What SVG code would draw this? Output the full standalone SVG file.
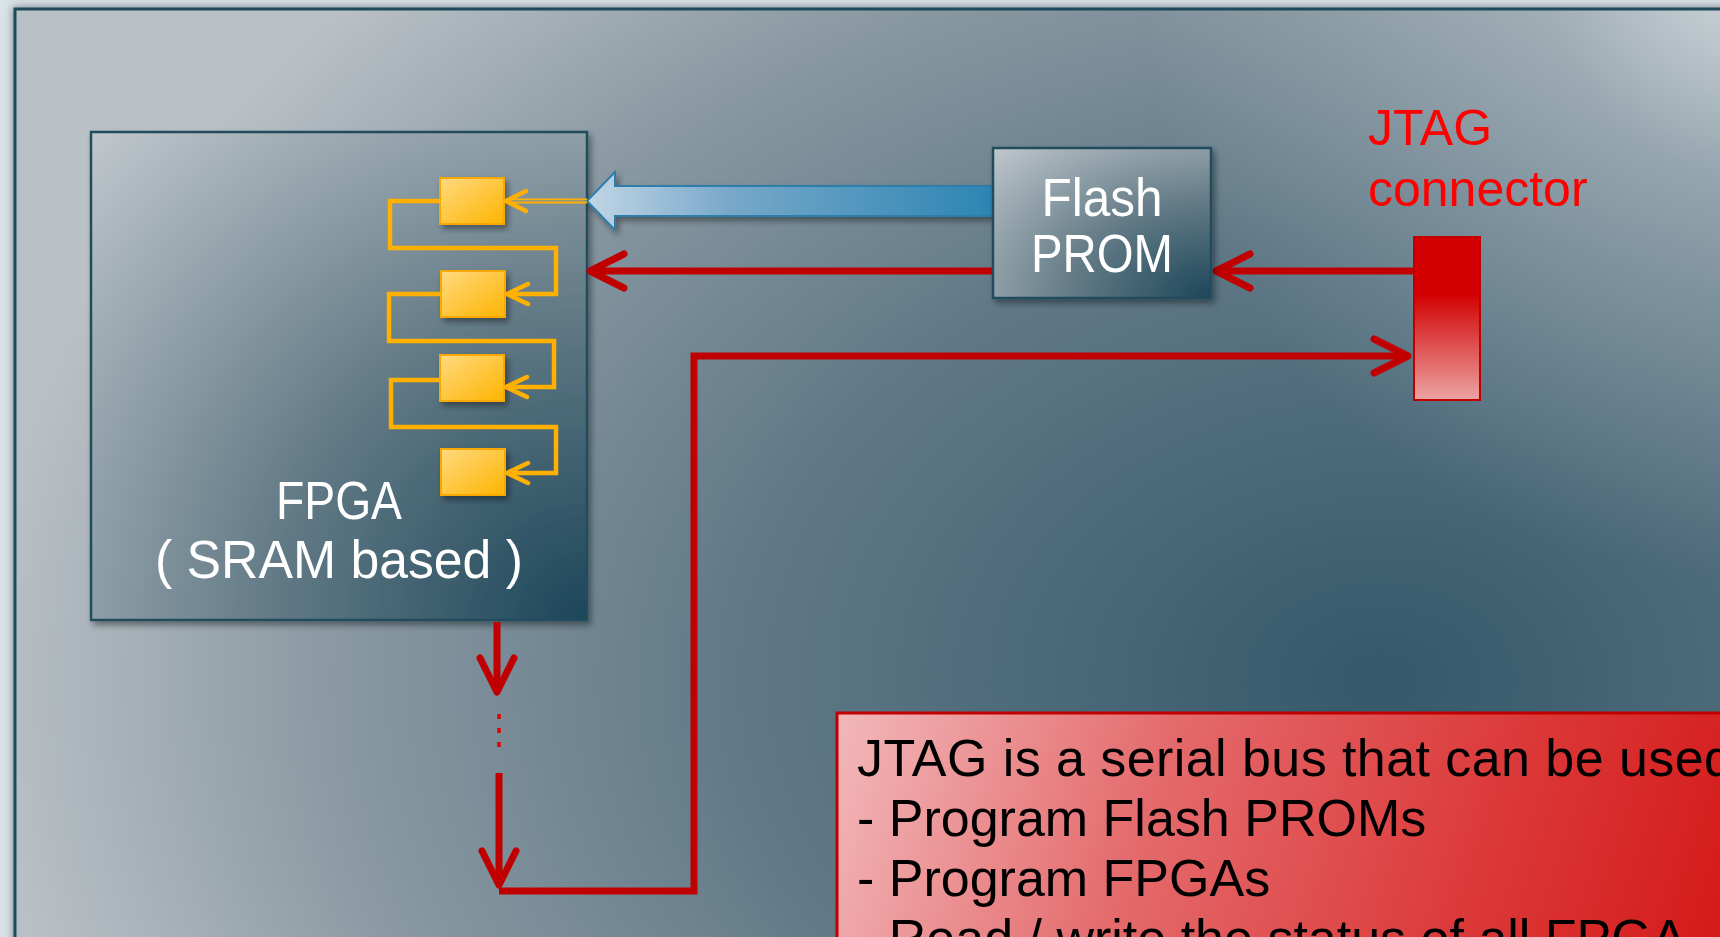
<svg xmlns="http://www.w3.org/2000/svg" width="1720" height="937" viewBox="0 0 1720 937">
<defs>
  <radialGradient id="bgGrad" gradientUnits="userSpaceOnUse" cx="1380" cy="680" r="1400" gradientTransform="translate(1380 680) scale(1 0.72) translate(-1380 -680)">
    <stop offset="0" stop-color="#35586a"/>
    <stop offset="0.45" stop-color="#5f7886"/>
    <stop offset="0.75" stop-color="#8a99a2"/>
    <stop offset="1" stop-color="#bac1c6"/>
  </radialGradient>
  <radialGradient id="glow" gradientUnits="userSpaceOnUse" cx="1760" cy="-40" r="620">
    <stop offset="0" stop-color="#dfe4e7" stop-opacity="0.85"/>
    <stop offset="0.35" stop-color="#dfe4e7" stop-opacity="0.35"/>
    <stop offset="1" stop-color="#dfe4e7" stop-opacity="0"/>
  </radialGradient>
  <radialGradient id="boxGrad" cx="1" cy="1" r="1.41">
    <stop offset="0" stop-color="#1c4659"/>
    <stop offset="0.45" stop-color="#627a86"/>
    <stop offset="1" stop-color="#c0c7cc"/>
  </radialGradient>
  <linearGradient id="cellGrad" x1="0" y1="0" x2="1" y2="1">
    <stop offset="0" stop-color="#ffda80"/>
    <stop offset="1" stop-color="#ffb400"/>
  </linearGradient>
  <linearGradient id="blueGrad" gradientUnits="userSpaceOnUse" x1="587" y1="0" x2="993" y2="0">
    <stop offset="0" stop-color="#c2d6e6"/>
    <stop offset="0.35" stop-color="#78a8ca"/>
    <stop offset="1" stop-color="#2c85b2"/>
  </linearGradient>
  <linearGradient id="jtagGrad" x1="0" y1="0" x2="0" y2="1">
    <stop offset="0" stop-color="#d20000"/>
    <stop offset="0.35" stop-color="#d20000"/>
    <stop offset="1" stop-color="#eca4a4"/>
  </linearGradient>
  <linearGradient id="noteGrad" gradientUnits="userSpaceOnUse" x1="837" y1="713" x2="1720" y2="1000">
    <stop offset="0" stop-color="#f2b8ba"/>
    <stop offset="0.35" stop-color="#e46a6c"/>
    <stop offset="0.7" stop-color="#dc3a3a"/>
    <stop offset="1" stop-color="#d41818"/>
  </linearGradient>
  <filter id="shadow" x="-10%" y="-10%" width="130%" height="130%">
    <feDropShadow dx="3" dy="4" stdDeviation="3" flood-color="#000" flood-opacity="0.4"/>
  </filter>
  <filter id="blur6" x="-5%" y="-5%" width="110%" height="110%">
    <feGaussianBlur stdDeviation="4"/>
  </filter>
  <marker id="redArrow" markerUnits="userSpaceOnUse" orient="auto" refX="0" refY="0" markerWidth="10" markerHeight="10" overflow="visible">
    <path d="M-34,-17 L0,0 L-34,17" fill="none" stroke="#c00000" stroke-width="7" stroke-linecap="round" stroke-linejoin="round"/>
  </marker>
  <marker id="orangeArrow" markerUnits="userSpaceOnUse" orient="auto" refX="0" refY="0" markerWidth="10" markerHeight="10" overflow="visible">
    <path d="M-21,-10 L0,0 L-21,10" fill="none" stroke="#ffb000" stroke-width="4.5" stroke-linecap="round" stroke-linejoin="round"/>
  </marker>
  <style>
    .box { fill: url(#boxGrad); stroke: #234b5d; stroke-width: 2.5; filter: url(#shadow); }
    .cell { fill: url(#cellGrad); stroke: #f7a900; stroke-width: 2; filter: url(#shadow); }
    .wire { fill: none; stroke: #ffb000; stroke-width: 4.5; stroke-linejoin: miter; }
    .red { fill: none; stroke: #c00000; stroke-width: 7; }
    .lbl { font-family: "Liberation Sans", Arial, sans-serif; font-size: 53px; fill: #ffffff; }
    .jt { font-family: "Liberation Sans", Arial, sans-serif; font-size: 50px; fill: #ff0000; }
    .note { font-family: "Liberation Sans", Arial, sans-serif; font-size: 52px; fill: #000000; }
  </style>
</defs>

<!-- page background and frame -->
<rect x="0" y="0" width="1720" height="937" fill="#d9e2e6"/>
<rect x="13" y="7" width="1800" height="1000" fill="#2a3a42" opacity="0.55" filter="url(#blur6)"/>
<rect x="15" y="9" width="1800" height="1000" fill="url(#bgGrad)"/>
<rect x="15" y="9" width="1800" height="1000" fill="url(#glow)"/>
<rect x="15" y="9" width="1800" height="1000" fill="none" stroke="#1f4a5c" stroke-width="3"/>

<g id="fpga">
  <rect class="box" x="91" y="132" width="496" height="488"/>
  <text class="lbl" x="339" y="519" text-anchor="middle" textLength="126" lengthAdjust="spacingAndGlyphs">FPGA</text>
  <text class="lbl" x="339" y="578" text-anchor="middle" textLength="368" lengthAdjust="spacingAndGlyphs">( SRAM based )</text>
</g>

<g id="cell-1"><rect class="cell" x="440" y="178" width="64" height="46"/></g>
<g id="cell-2"><rect class="cell" x="441" y="271" width="64" height="46"/></g>
<g id="cell-3"><rect class="cell" x="440" y="355" width="64" height="46"/></g>
<g id="cell-4"><rect class="cell" x="441" y="449" width="64" height="46"/></g>

<g id="connectors">
  <!-- blue configuration arrow from Flash PROM to FPGA -->
  <polygon points="587,201 615,172 615,186 993,186 993,216 615,216 615,230" fill="url(#blueGrad)" stroke="#2f7eab" stroke-width="2" stroke-linejoin="miter" filter="url(#shadow)"/>
  <!-- thin double line into first cell -->
  <line x1="587" y1="199.3" x2="507" y2="199.3" stroke="#ffb000" stroke-width="1.8"/>
  <line x1="587" y1="202.5" x2="507" y2="202.5" stroke="#ffb000" stroke-width="1.8"/>
  <path d="M526,191 L506,201 L526,211" fill="none" stroke="#ffb000" stroke-width="4.5" stroke-linecap="round" stroke-linejoin="round"/>
  <!-- scan chain wiring -->
  <path class="wire" d="M440,201 H390 V248 H556 V294 H507" marker-end="url(#orangeArrow)"/>
  <path class="wire" d="M441,294 H389 V341 H554 V387 H506" marker-end="url(#orangeArrow)"/>
  <path class="wire" d="M440,380 H391 V427 H556 V473 H507" marker-end="url(#orangeArrow)"/>
  <!-- red JTAG chain -->
  <line class="red" x1="993" y1="271" x2="590" y2="271" marker-end="url(#redArrow)"/>
  <line class="red" x1="1413" y1="271" x2="1216" y2="271" marker-end="url(#redArrow)"/>
  <line class="red" x1="497" y1="622" x2="497" y2="692" stroke-width="6" marker-end="url(#redArrow)"/>
  <line x1="499" y1="714" x2="499" y2="748" stroke="#e00000" stroke-width="3.5" stroke-dasharray="5 9"/>
  <line class="red" x1="499" y1="773" x2="499" y2="885" stroke-width="6" marker-end="url(#redArrow)"/>
  <path class="red" d="M499,891 H694 V356 H1408" marker-end="url(#redArrow)"/>
</g>

<g id="flash-prom">
  <rect class="box" x="993" y="148" width="218" height="150"/>
  <text class="lbl" x="1102" y="216" text-anchor="middle" textLength="121" lengthAdjust="spacingAndGlyphs">Flash</text>
  <text class="lbl" x="1102" y="272" text-anchor="middle" textLength="142" lengthAdjust="spacingAndGlyphs">PROM</text>
</g>

<g id="jtag-connector">
  <rect x="1414" y="237" width="66" height="163" fill="url(#jtagGrad)" stroke="#c00000" stroke-width="2"/>
  <text class="jt" x="1368" y="145">JTAG</text>
  <text class="jt" x="1368" y="206">connector</text>
</g>

<g id="info-note">
  <rect x="837" y="713" width="1000" height="400" fill="url(#noteGrad)" stroke="#c00000" stroke-width="3"/>
  <text class="note" x="857" y="776" textLength="876" lengthAdjust="spacing">JTAG is a serial bus that can be used</text>
  <text class="note" x="857" y="836">- Program Flash PROMs</text>
  <text class="note" x="857" y="896">- Program FPGAs</text>
  <text class="note" x="857" y="956">- Read / write the status of all FPGA</text>
</g>
</svg>
